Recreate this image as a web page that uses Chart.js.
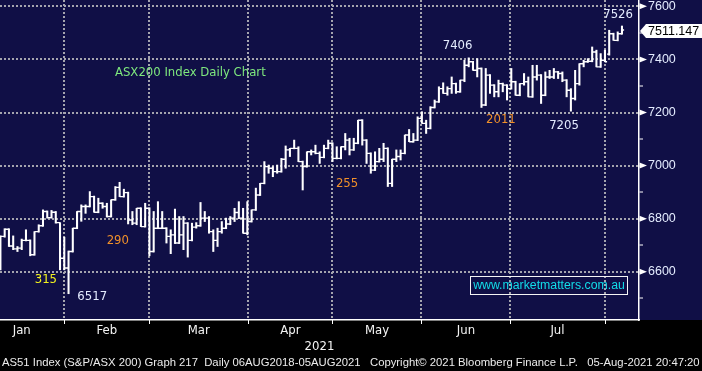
<!DOCTYPE html>
<html>
<head>
<meta charset="utf-8">
<script src="https://cdn.jsdelivr.net/npm/chart.js@4.4.0/dist/chart.umd.min.js"></script>
<style>
  html, body { margin: 0; padding: 0; background: #000; }
  #wrap { position: relative; width: 702px; height: 371px; }
  #footer { position: absolute; left: 2px; top: 356px; font: 11.3px 'Liberation Sans', Arial, sans-serif; line-height: 13px; color: #ececec; white-space: pre; }
</style>
</head>
<body>
<div id="wrap">
  <canvas id="chart" width="702" height="371"></canvas>
  <div id="footer">AS51 Index (S&amp;P/ASX 200) Graph 217  Daily 06AUG2018-05AUG2021   Copyright© 2021 Bloomberg Finance L.P.   05-Aug-2021 20:47:20</div>
</div>
<script>
  const opens = [
    6650, 6733, 6760, 6697, 6686, 6689, 6718, 6718, 6664, 6751,
    6773, 6827, 6804, 6824, 6785, 6651, 6614, 6676, 6764, 6827,
    6846, 6846, 6883, 6824, 6858, 6846, 6808, 6871, 6918, 6883,
    6898, 6795, 6783, 6839, 6770, 6839, 6676, 6764, 6764, 6764,
    6733, 6739, 6708, 6739, 6783, 6718, 6768, 6773, 6802, 6802,
    6751, 6718, 6751, 6764, 6780, 6802, 6823, 6802, 6745, 6789,
    6833, 6889, 6933, 6996, 6990, 6977, 6977, 7024, 7059, 7065,
    7065, 7015, 6996, 7052, 7052, 7046, 7031, 7065, 7084, 7027,
    7027, 7071, 7096, 7059, 7084, 7171, 7096, 7046, 6983, 7015,
    7024, 7065, 6933, 7024, 7034, 7046, 7115, 7090, 7096, 7178,
    7159, 7140, 7219, 7240, 7290, 7272, 7290, 7309, 7278, 7322,
    7378, 7391, 7359, 7366, 7228, 7341, 7303, 7278, 7309, 7303,
    7290, 7316, 7265, 7309, 7316, 7259, 7334, 7341, 7265, 7334,
    7334, 7353, 7347, 7322, 7284, 7253, 7309, 7384, 7391, 7393,
    7428, 7372, 7397, 7420, 7497, 7472, 7497
  ];
  const highs = [
    6735, 6762, 6762, 6735, 6695, 6723, 6758, 6720, 6751, 6777,
    6833, 6829, 6831, 6827, 6785, 6730, 6678, 6764, 6827, 6852,
    6852, 6902, 6885, 6877, 6860, 6858, 6871, 6921, 6937, 6911,
    6900, 6827, 6839, 6841, 6858, 6841, 6827, 6864, 6827, 6766,
    6758, 6836, 6808, 6808, 6785, 6783, 6785, 6861, 6827, 6808,
    6758, 6764, 6789, 6802, 6808, 6839, 6864, 6839, 6864, 6833,
    6915, 6933, 7015, 7002, 6996, 7002, 7027, 7074, 7065, 7096,
    7071, 7017, 7052, 7059, 7077, 7052, 7077, 7096, 7086, 7071,
    7071, 7121, 7103, 7103, 7171, 7173, 7098, 7048, 7052, 7065,
    7084, 7067, 7024, 7059, 7059, 7115, 7136, 7121, 7184, 7203,
    7171, 7222, 7247, 7297, 7312, 7297, 7334, 7311, 7322, 7397,
    7406, 7393, 7403, 7368, 7366, 7343, 7305, 7322, 7311, 7305,
    7366, 7318, 7309, 7347, 7334, 7378, 7378, 7343, 7353, 7359,
    7366, 7355, 7353, 7324, 7290, 7359, 7384, 7397, 7403, 7447,
    7435, 7422, 7435, 7510, 7499, 7504, 7526
  ];
  const lows = [
    6607, 6730, 6695, 6683, 6676, 6683, 6716, 6660, 6662, 6749,
    6771, 6802, 6802, 6783, 6607, 6607, 6517, 6674, 6762, 6790,
    6820, 6844, 6824, 6822, 6839, 6806, 6806, 6869, 6883, 6881,
    6780, 6777, 6777, 6770, 6768, 6660, 6674, 6762, 6762, 6708,
    6668, 6706, 6706, 6683, 6655, 6716, 6764, 6771, 6789, 6745,
    6676, 6695, 6745, 6762, 6777, 6789, 6800, 6745, 6739, 6787,
    6831, 6887, 6931, 6971, 6958, 6971, 6975, 6990, 7034, 7063,
    7015, 6908, 6994, 7040, 7044, 7008, 7029, 7063, 7015, 7025,
    7025, 7059, 7040, 7057, 7082, 7077, 7008, 6971, 6981, 7013,
    7015, 6921, 6921, 7015, 7021, 7044, 7090, 7088, 7094, 7159,
    7121, 7138, 7217, 7238, 7272, 7265, 7272, 7272, 7276, 7316,
    7372, 7359, 7334, 7219, 7226, 7272, 7259, 7259, 7278, 7247,
    7288, 7265, 7263, 7303, 7259, 7257, 7322, 7234, 7263, 7328,
    7328, 7328, 7316, 7259, 7205, 7247, 7303, 7372, 7389, 7391,
    7372, 7370, 7391, 7416, 7472, 7470, 7495
  ];
  const closes = [
    6733, 6760, 6697, 6686, 6689, 6718, 6718, 6664, 6751, 6773,
    6827, 6804, 6824, 6785, 6651, 6614, 6676, 6764, 6827, 6846,
    6846, 6883, 6824, 6858, 6846, 6808, 6871, 6918, 6883, 6898,
    6795, 6783, 6839, 6770, 6839, 6676, 6764, 6764, 6764, 6733,
    6739, 6708, 6739, 6783, 6718, 6768, 6773, 6802, 6802, 6751,
    6718, 6751, 6764, 6780, 6802, 6823, 6802, 6745, 6789, 6833,
    6889, 6933, 6996, 6990, 6977, 6977, 7024, 7059, 7065, 7065,
    7015, 6996, 7052, 7052, 7046, 7031, 7065, 7084, 7027, 7027,
    7071, 7096, 7059, 7084, 7171, 7096, 7046, 6983, 7015, 7024,
    7065, 6933, 7024, 7034, 7046, 7115, 7090, 7096, 7178, 7159,
    7140, 7219, 7240, 7290, 7272, 7290, 7309, 7278, 7322, 7378,
    7391, 7359, 7366, 7228, 7341, 7303, 7278, 7309, 7303, 7290,
    7316, 7265, 7309, 7316, 7259, 7334, 7341, 7265, 7334, 7334,
    7353, 7347, 7322, 7284, 7253, 7309, 7384, 7391, 7393, 7428,
    7372, 7397, 7391, 7497, 7472, 7497, 7511.147
  ];

  const monthLabels = ['Jan', 'Feb', 'Mar', 'Apr', 'May', 'Jun', 'Jul'];
  const monthEdges = [-5, 15, 35, 58.2, 78, 98.9, 119.8, 141.9];
  const yMajor = [6600, 6800, 7000, 7200, 7400, 7600];
  const yMinor = [6500, 6700, 6900, 7100, 7300, 7500];
  const lastPrice = 7511.147;

  const notes = [
    { text: 'ASX200 Index Daily Chart', x: 26.9, y: 7351, color: '#7ee87e' },
    { text: '315', x: 8.05, y: 6571, color: '#f2f21e' },
    { text: '6517', x: 18.06, y: 6506, color: '#e4ecff' },
    { text: '290', x: 24.96, y: 6719, color: '#f0902a' },
    { text: '255', x: 78.8, y: 6931, color: '#f0902a' },
    { text: '7406', x: 103.9, y: 7451, color: '#e4ecff' },
    { text: '2011', x: 114.06, y: 7175, color: '#f0902a' },
    { text: '7205', x: 128.9, y: 7149, color: '#e4ecff' },
    { text: '7526', x: 141.6, y: 7567, color: '#e4ecff' }
  ];

  const NAVY = '#100f46';
  const GRID = '#a4a4ae';
  const FONT = "'DejaVu Sans Condensed', 'Liberation Sans', sans-serif";
  const AXIS_FONT = "'Liberation Sans', Arial, sans-serif";

  const background = {
    id: 'background',
    beforeDraw(chart) {
      const { ctx, width, height, chartArea } = chart;
      ctx.save();
      ctx.fillStyle = '#000';
      ctx.fillRect(0, 0, width, height);
      ctx.fillStyle = NAVY;
      ctx.fillRect(0, 0, width, chartArea.bottom);
      ctx.restore();
    }
  };

  const monthGrid = {
    id: 'monthGrid',
    beforeDatasetsDraw(chart) {
      const { ctx, chartArea, scales: { x } } = chart;
      ctx.save();
      monthEdges.forEach(v => {
        const px = Math.round(x.getPixelForValue(v));
        if (px < chartArea.left + 2) return;
        ctx.strokeStyle = GRID;
        ctx.lineWidth = 2;
        ctx.setLineDash([2, 2]);
        ctx.beginPath();
        ctx.moveTo(px, chartArea.top);
        ctx.lineTo(px, chartArea.bottom);
        ctx.stroke();
        ctx.strokeStyle = '#fff';
        ctx.lineWidth = 1;
        ctx.setLineDash([]);
        ctx.beginPath();
        ctx.moveTo(px + 0.5, chartArea.bottom);
        ctx.lineTo(px + 0.5, chartArea.bottom + 4);
        ctx.stroke();
      });
      ctx.restore();
    }
  };

  const ohlcTicks = {
    id: 'ohlcTicks',
    afterDatasetsDraw(chart) {
      const { ctx, chartArea, scales: { x, y } } = chart;
      const half = (x.getPixelForValue(1) - x.getPixelForValue(0)) / 2;
      ctx.save();
      ctx.beginPath();
      ctx.rect(chartArea.left, chartArea.top, chartArea.width, chartArea.height);
      ctx.clip();
      ctx.strokeStyle = '#fff';
      ctx.lineWidth = 1.4;
      ctx.beginPath();
      opens.forEach((o, i) => {
        const px = x.getPixelForValue(i);
        const po = y.getPixelForValue(o);
        const pc = y.getPixelForValue(closes[i]);
        ctx.moveTo(px - half, po);
        ctx.lineTo(px, po);
        ctx.moveTo(px, pc);
        ctx.lineTo(px + half, pc);
      });
      ctx.stroke();
      ctx.restore();
    }
  };

  const overlay = {
    id: 'overlay',
    afterDraw(chart) {
      const { ctx, chartArea, width, scales: { x, y } } = chart;
      ctx.save();
      ctx.font = '13px ' + FONT;
      ctx.textBaseline = 'middle';
      ctx.textAlign = 'left';
      notes.forEach(n => {
        ctx.fillStyle = n.color;
        ctx.fillText(n.text, x.getPixelForValue(n.x), y.getPixelForValue(n.y));
      });

      // arrows on the price axis
      ctx.fillStyle = '#fff';
      yMajor.forEach(v => {
        const py = y.getPixelForValue(v);
        ctx.beginPath();
        ctx.moveTo(y.left + 0.5, py - 3);
        ctx.lineTo(y.left + 0.5, py + 3);
        ctx.lineTo(y.left + 8, py);
        ctx.closePath();
        ctx.fill();
      });

      // last price tag
      const py = y.getPixelForValue(lastPrice) + 1;
      const lx = y.left + 1;
      ctx.beginPath();
      ctx.moveTo(lx, py);
      ctx.lineTo(lx + 6, py - 7);
      ctx.lineTo(width, py - 7);
      ctx.lineTo(width, py + 7);
      ctx.lineTo(lx + 6, py + 7);
      ctx.closePath();
      ctx.fill();
      ctx.fillStyle = '#000';
      ctx.font = '12.5px ' + AXIS_FONT;
      ctx.fillText(lastPrice.toFixed(3), lx + 8, py + 0.5);

      // site box
      const bx = chartArea.right - 169;
      const by = chartArea.bottom - 44;
      ctx.strokeStyle = '#f4f4f4';
      ctx.lineWidth = 1;
      ctx.strokeRect(bx + 0.5, by + 0.5, 157, 18);
      ctx.fillStyle = '#12dce8';
      ctx.font = '12.3px ' + AXIS_FONT;
      ctx.textAlign = 'center';
      ctx.fillText('www.marketmatters.com.au', bx + 79, by + 10);
      ctx.restore();
    }
  };

  new Chart(document.getElementById('chart'), {
    type: 'bar',
    data: {
      datasets: [{
        data: highs.map((h, i) => ({ x: i, y: [lows[i], h] })),
        backgroundColor: '#fff',
        borderWidth: 0,
        barThickness: 1.4,
        grouped: false
      }]
    },
    options: {
      responsive: false,
      animation: false,
      devicePixelRatio: 1,
      layout: { padding: { left: 0, right: 0, top: 0, bottom: 17 } },
      plugins: { legend: { display: false }, tooltip: { enabled: false } },
      scales: {
        x: {
          type: 'linear',
          offset: false,
          min: -0.1,
          max: 150,
          afterBuildTicks: s => {
            s.ticks = monthLabels.map((m, i) => ({ value: (monthEdges[i] + monthEdges[i + 1]) / 2 }));
          },
          afterFit: s => { s.height = 34; s.paddingLeft = 0; s.paddingRight = 0; },
          ticks: {
            callback: (v, i) => monthLabels[i],
            color: '#f4f4f4',
            font: { family: FONT, size: 13 },
            padding: 3,
            maxRotation: 0,
            autoSkip: false
          },
          grid: { display: false, drawTicks: false },
          border: { color: '#fff', width: 1.5 },
          title: { display: true, text: '2021', color: '#f4f4f4', font: { family: FONT, size: 13 }, padding: { top: 0, bottom: 0 } }
        },
        y: {
          position: 'right',
          min: 6418,
          max: 7624,
          afterBuildTicks: s => {
            s.ticks = yMajor.concat(yMinor).sort((a, b) => a - b).map(v => ({ value: v }));
          },
          afterFit: s => { s.width = 63; s.paddingTop = 0; s.paddingBottom = 0; },
          ticks: {
            callback: v => yMajor.includes(v) ? v : '',
            color: '#e4ecff',
            font: { family: AXIS_FONT, size: 12.5 },
            padding: 5
          },
          grid: {
            color: c => yMajor.includes(c.tick.value) ? GRID : 'rgba(0,0,0,0)',
            lineWidth: 2,
            tickColor: '#fff',
            tickLength: 4,
            tickWidth: 1
          },
          border: { color: '#fff', width: 1.5, dash: [2, 2] }
        }
      }
    },
    plugins: [background, monthGrid, ohlcTicks, overlay]
  });
</script>
</body>
</html>
